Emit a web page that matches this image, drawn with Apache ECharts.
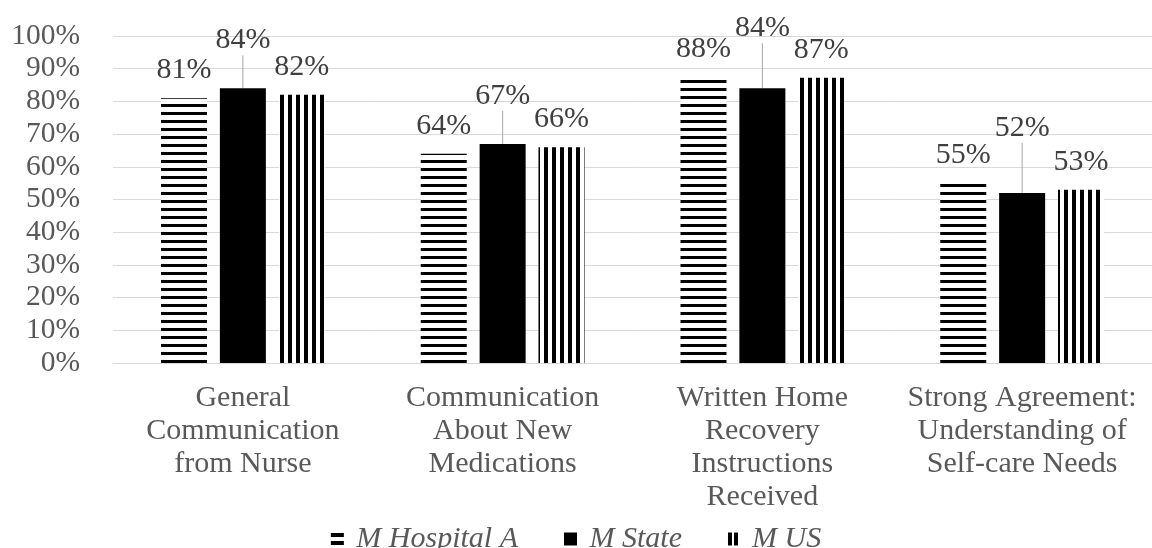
<!DOCTYPE html>
<html>
<head>
<meta charset="utf-8">
<script src="https://cdn.jsdelivr.net/npm/echarts@6/dist/echarts.min.js"></script>
<style>
html,body{margin:0;padding:0;background:#fff;}
#chart{width:1152px;height:548px;}
</style>
</head>
<body>
<div id="chart"></div>
<script>
const categories = [
  'General\nCommunication\nfrom Nurse',
  'Communication\nAbout New\nMedications',
  'Written Home\nRecovery\nInstructions\nReceived',
  'Strong Agreement:\nUnderstanding of\nSelf-care Needs'
];
const seriesNames = ['M Hospital A', 'M State', 'M US'];
const hospitalA = [81, 64, 87.5, 55];
const stateVals = [84, 67, 84, 52];
const usVals = [82, 66, 87.2, 53];
const yTicks = [0, 10, 20, 30, 40, 50, 60, 70, 80, 90, 100];

// label lift (px) for the State labels that were moved up with leader lines
const stateLift = [14, 14, 26, 31];

const FONT = "'Liberation Serif', 'Times New Roman', serif";

function makePattern(kind) {
  const c = document.createElement('canvas');
  c.width = 8; c.height = 8;
  const g = c.getContext('2d');
  g.fillStyle = '#fff';
  g.fillRect(0, 0, 8, 8);
  g.fillStyle = '#000';
  if (kind === 'h') g.fillRect(0, 0, 8, 3);
  else g.fillRect(0, 0, 4, 8);
  return { image: c, repeat: 'repeat' };
}

const chart = echarts.init(document.getElementById('chart'));
const pct = p => Math.round(p.value) + '%';
const baseLabel = {
  show: true,
  position: 'top',
  distance: 13,
  formatter: pct,
  color: '#404040',
  fontFamily: FONT,
  fontSize: 30
};

chart.setOption({
  animation: false,
  backgroundColor: '#fff',
  grid: { left: 113, top: 36, width: 1047, height: 327, containLabel: false },
  xAxis: {
    type: 'category',
    data: categories,
    axisLine: { show: true, lineStyle: { color: '#d9d9d9', width: 1 } },
    axisTick: { show: false },
    axisLabel: {
      interval: 0,
      margin: 19,
      color: '#595959',
      fontFamily: FONT,
      fontSize: 30,
      lineHeight: 33
    }
  },
  yAxis: {
    type: 'value',
    min: yTicks[0],
    max: yTicks[yTicks.length - 1],
    interval: yTicks[1] - yTicks[0],
    axisLine: { show: false },
    axisTick: { show: false },
    splitLine: { lineStyle: { color: '#d9d9d9', width: 1 } },
    axisLabel: {
      margin: 33,
      color: '#595959',
      fontFamily: FONT,
      fontSize: 29.5,
      formatter: '{value}%'
    }
  },
  legend: {
    top: 519,
    left: 'center',
    itemWidth: 13,
    itemHeight: 13,
    itemGap: 46,
    formatter: n => ' ' + n,
    textStyle: { color: '#595959', fontFamily: FONT, fontSize: 30, fontStyle: 'italic' },
    data: [
      { name: seriesNames[0], icon: 'path://M0,0h13v4h-13z M0,8h13v4h-13z', itemStyle: { color: '#000' } },
      { name: seriesNames[1], icon: 'rect', itemStyle: { color: '#000' } },
      { name: seriesNames[2], icon: 'path://M0,0h4v13h-4z M6,0h4v13h-4z', itemStyle: { color: '#000' } }
    ]
  },
  series: [
    {
      name: seriesNames[0],
      type: 'bar',
      data: hospitalA,
      barWidth: 46,
      barGap: '28%',
      itemStyle: { color: makePattern('h') },
      label: baseLabel
    },
    {
      name: seriesNames[1],
      type: 'bar',
      data: stateVals,
      barWidth: 46,
      barGap: '28%',
      itemStyle: { color: '#000' },
      label: Object.assign({}, baseLabel, { padding: [0, 0, 6, 0] }),
      labelLine: { show: true, lineStyle: { color: '#a6a6a6', width: 1 } },
      labelLayout: p => ({ dy: -stateLift[p.dataIndex] })
    },
    {
      name: seriesNames[2],
      type: 'bar',
      data: usVals,
      barWidth: 46,
      barGap: '28%',
      itemStyle: { color: makePattern('v') },
      label: baseLabel
    }
  ]
});
</script>
</body>
</html>
